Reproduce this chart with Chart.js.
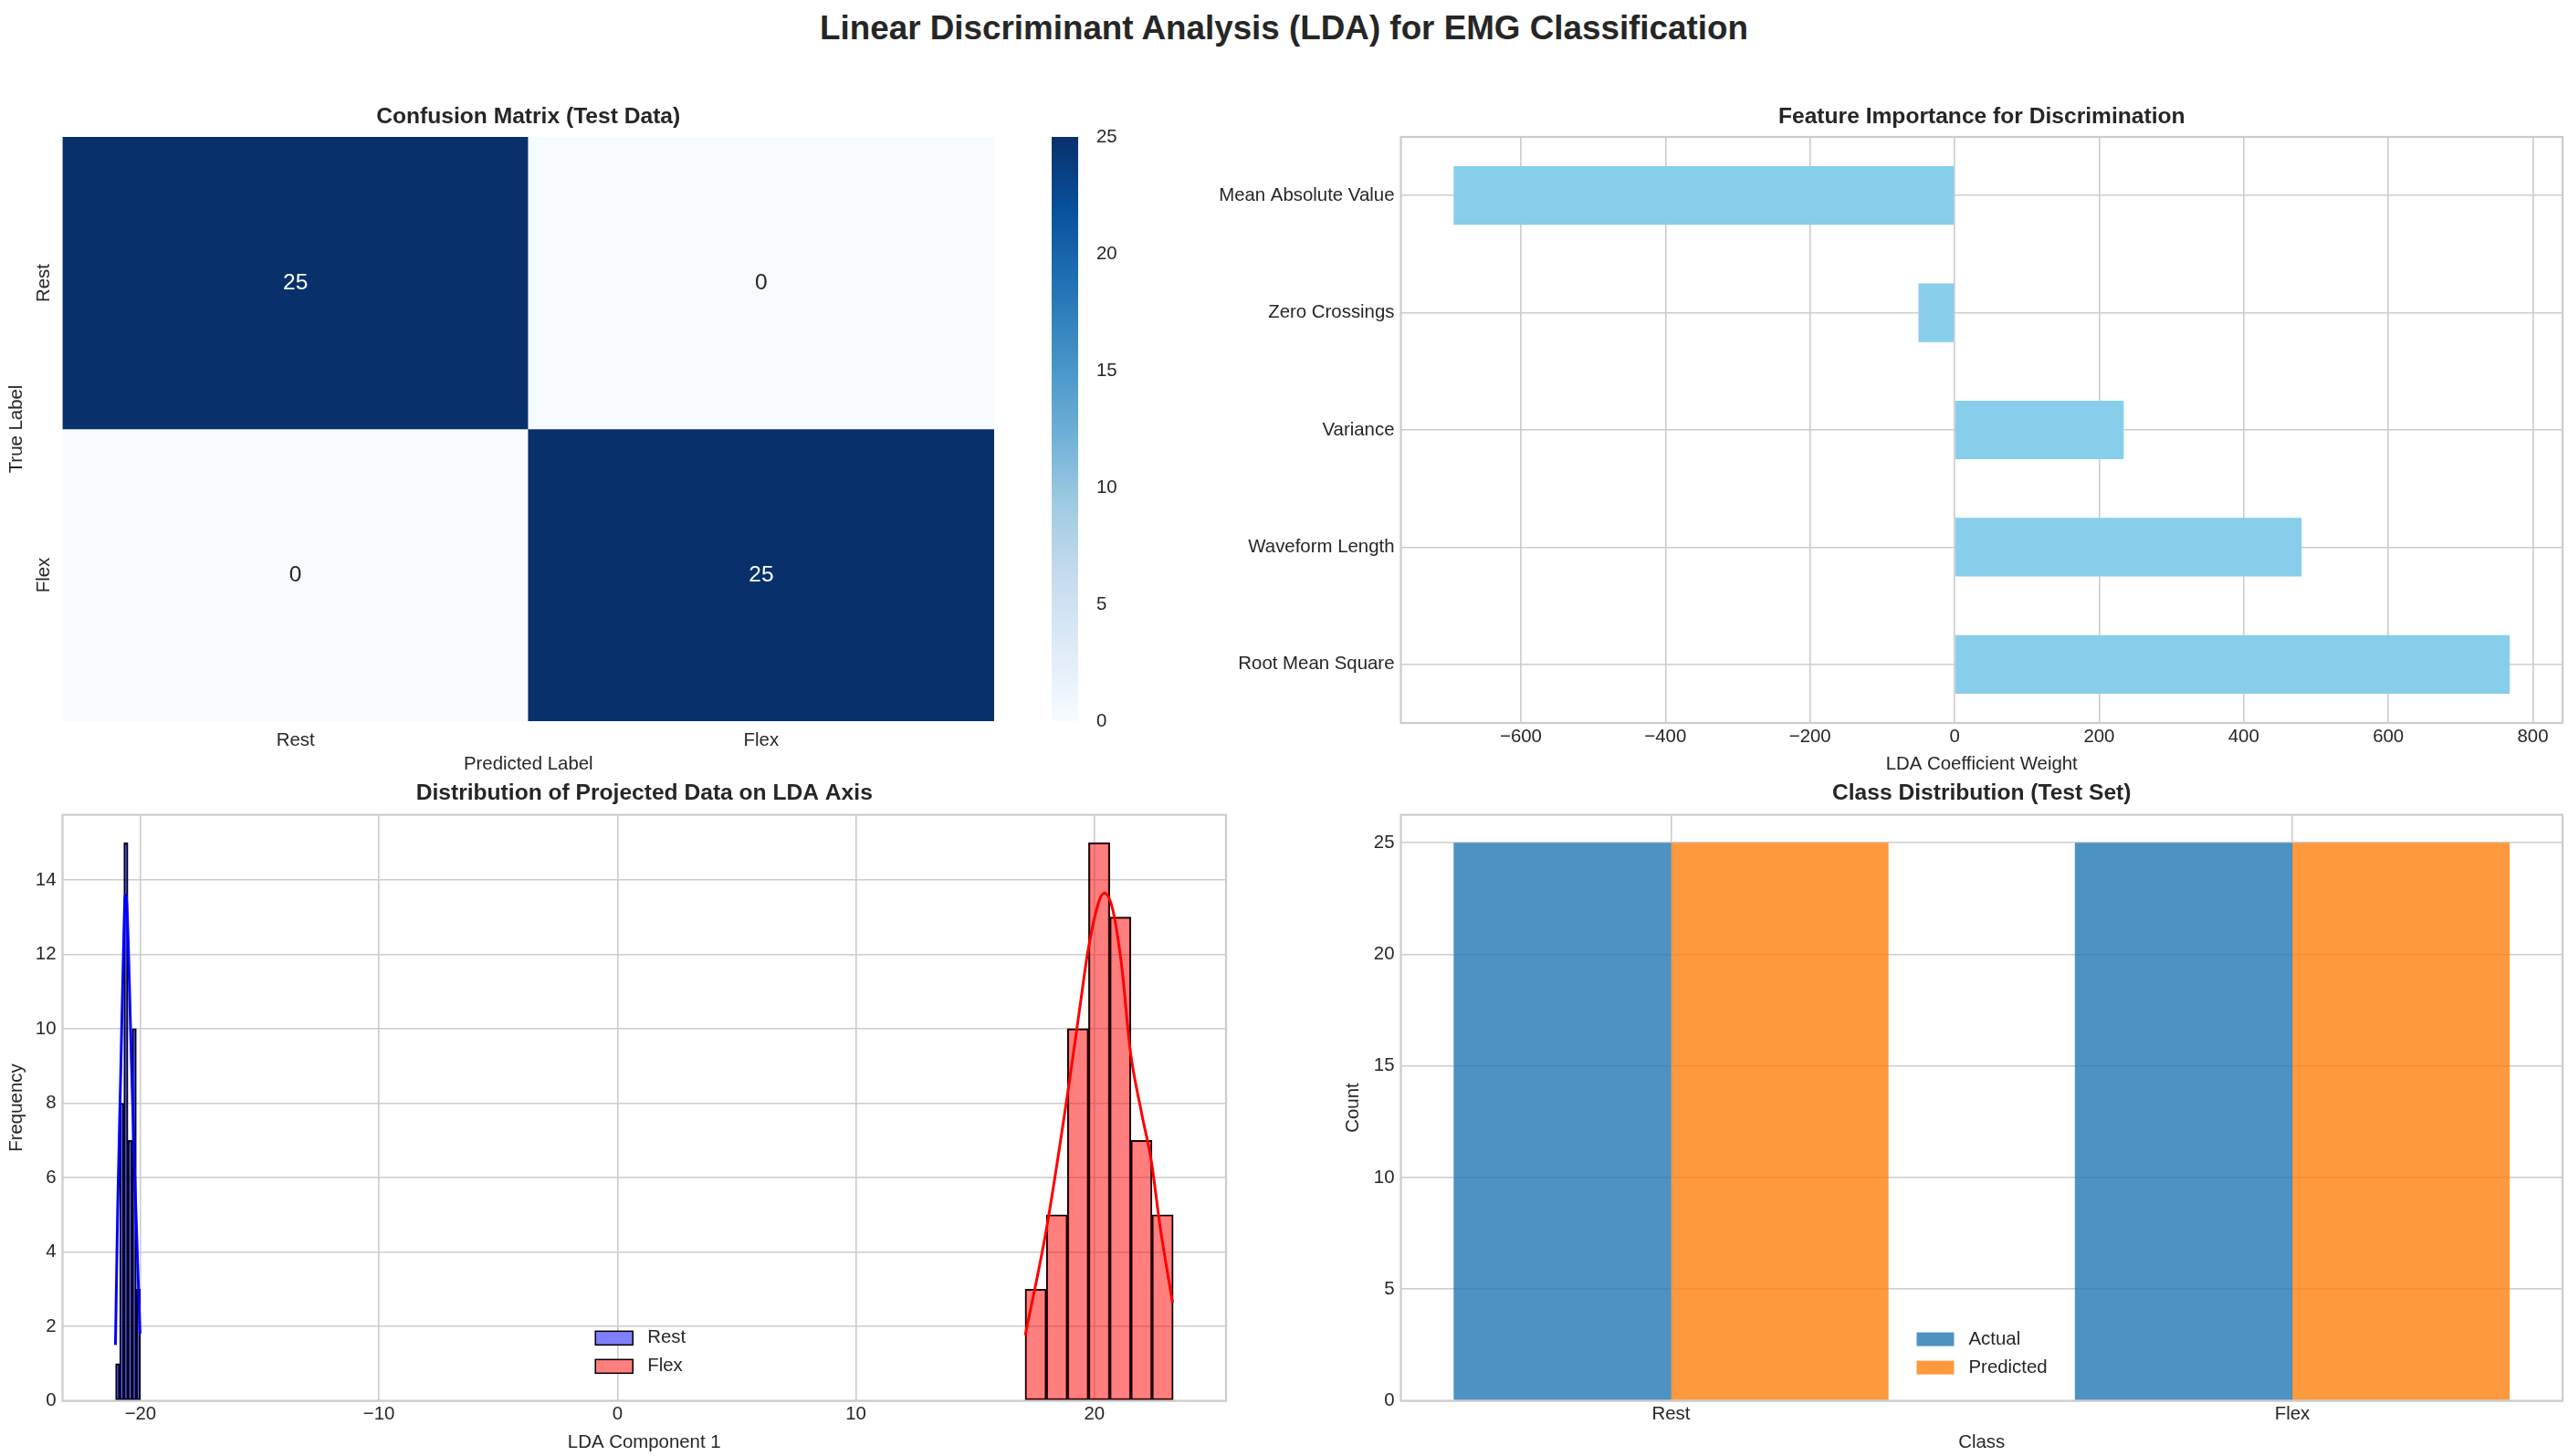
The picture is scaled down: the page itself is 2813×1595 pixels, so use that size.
<!DOCTYPE html>
<html>
<head>
<meta charset="utf-8">
<title>LDA for EMG Classification</title>
<script src="https://cdn.jsdelivr.net/npm/chart.js@4.4.1/dist/chart.umd.min.js"></script>
<style>
  html, body { margin: 0; padding: 0; background: #fff; }
  body { width: 2813px; height: 1595px; position: relative; overflow: hidden; font-family: 'Liberation Sans', Arial, sans-serif; }
  h1 { position: absolute; left: 0; top: 10px; width: 2813px; margin: 0; text-align: center;
       font-size: 36.8px; line-height: 42px; font-weight: bold; color: #262626; }
  canvas { position: absolute; }
</style>
</head>
<body>
<h1>Linear Discriminant Analysis (LDA) for EMG Classification</h1>
<canvas id="cm"></canvas>
<canvas id="cb"></canvas>
<canvas id="fi"></canvas>
<canvas id="hist"></canvas>
<canvas id="cls"></canvas>
<script>
// data
const classes = ['Rest', 'Flex'];
const confusion = [[25, 0], [0, 25]];
const cbTicks = [0, 5, 10, 15, 20, 25];

const features = ['Mean Absolute Value', 'Zero Crossings', 'Variance', 'Waveform Length', 'Root Mean Square'];
const weights = [-693, -50, 234, 480, 768];
const weightTicks = [-600, -400, -200, 0, 200, 400, 600, 800];

const restBins = [-20.96, -20.79, -20.61, -20.44, -20.26, -20.09];
const restCounts = [1, 8, 15, 7, 10, 3];
const flexBins = [17.54, 18.43, 19.31, 20.20, 21.09, 21.97, 22.86];
const flexCounts = [3, 5, 10, 15, 13, 7, 5];

const restKdeX = [-21.05, -20.96, -20.83, -20.70, -20.64, -20.57, -20.38, -20.25, -20.02];
const restKdeY = [1.5, 5.1, 8.8, 12.5, 13.6, 13.3, 9.1, 6.2, 1.8];
const flexKdeX = [17.10, 17.99, 18.89, 19.41, 19.73, 20.19, 20.42, 20.77, 21.16, 21.50, 21.99, 22.38, 22.77, 23.28];
const flexKdeY = [1.76, 4.62, 8.31, 10.66, 12.09, 13.42, 13.65, 13.2, 11.6, 9.43, 7.7, 6.47, 4.62, 2.63];
const ldaTicks = [-20, -10, 0, 10, 20];
const freqTicks = [0, 2, 4, 6, 8, 10, 12, 14];

const actualCounts = [25, 25];
const predictedCounts = [25, 25];
const countTicks = [0, 5, 10, 15, 20, 25];

// style
const FAMILY = "'Liberation Sans', Arial, Helvetica, sans-serif";
const INK = '#262626';
const GRID = '#cccccc';
const TICK_PX = 20.4, LABEL_PX = 20.4, TITLE_PX = 24.6;
const BLUES = ['#f7fbff', '#deebf7', '#c6dbef', '#9ecae1', '#6baed6', '#4292c6', '#2171b5', '#08519c', '#08306b'];

Chart.defaults.font.family = FAMILY;
Chart.defaults.font.size = TICK_PX;
Chart.defaults.color = INK;
Chart.defaults.animation = false;
Chart.defaults.events = [];
Chart.defaults.plugins.legend.display = false;
Chart.defaults.plugins.tooltip.enabled = false;

const cmMax = Math.max(...confusion.flat());
const signed = v => (v < 0 ? '\u2212' + Math.abs(v) : String(v));
const gridOpts = { color: GRID, lineWidth: 1.6, drawTicks: false };
const fixTicks = list => s => { s.ticks = list.map(v => ({ value: v })); };

function hexRgb(h) {
  return [1, 3, 5].map(i => parseInt(h.slice(i, i + 2), 16));
}
function blues(t) {
  const p = Math.min(Math.max(t, 0), 1) * (BLUES.length - 1);
  const i = Math.min(Math.floor(p), BLUES.length - 2), f = p - i;
  const a = hexRgb(BLUES[i]), b = hexRgb(BLUES[i + 1]);
  return 'rgb(' + a.map((v, k) => Math.round(v + (b[k] - v) * f)).join(',') + ')';
}

function canvas(id, box) {
  const el = document.getElementById(id);
  el.width = box.w; el.height = box.h;
  el.style.left = box.x + 'px'; el.style.top = box.y + 'px';
  return el;
}

// works out paddings so the plot area lands where it is in the picture
function place(cv, area, titleCy, xTitleCy) {
  const tlh = TITLE_PX * 1.2, alh = LABEL_PX * 1.2;
  const xH = xTitleCy - area.bottom + alh / 2;
  return {
    padding: { top: 0, left: 0, right: cv.x + cv.w - area.right, bottom: cv.y + cv.h - area.bottom - xH },
    titlePad: { top: titleCy - cv.y - tlh / 2, bottom: area.top - titleCy - tlh / 2 },
    yW: area.left - cv.x,
    xH: xH
  };
}

function titleOpts(text, pad) {
  return { display: true, text: text, fullSize: false, color: INK,
           font: { size: TITLE_PX, weight: 'bold' }, padding: pad };
}
function axisTitle(text, pad) {
  return { display: true, text: text, color: INK, font: { size: LABEL_PX },
           padding: { top: pad || 0, bottom: 0 } };
}

const frame = {
  id: 'frame',
  afterDatasetsDraw(chart) {
    const { ctx, chartArea: a } = chart;
    ctx.save();
    ctx.strokeStyle = GRID;
    ctx.lineWidth = 2.2;
    ctx.strokeRect(a.left, a.top, a.right - a.left, a.bottom - a.top);
    ctx.restore();
  }
};

function innerLegend(fx, fy) {
  return {
    id: 'innerLegend',
    afterDraw(chart) {
      const { ctx, chartArea: a } = chart;
      const x = a.left + (a.right - a.left) * fx;
      let y = a.top + (a.bottom - a.top) * fy;
      ctx.save();
      ctx.font = TICK_PX + 'px ' + FAMILY;
      ctx.textBaseline = 'middle';
      chart.data.datasets.forEach(ds => {
        if (ds.type === 'line') return;
        ctx.fillStyle = '#ffffff';
        ctx.fillRect(x, y - 7.5, 41, 15);
        ctx.fillStyle = ds.backgroundColor;
        ctx.fillRect(x, y - 7.5, 41, 15);
        if (ds.borderWidth) {
          ctx.strokeStyle = ds.borderColor;
          ctx.lineWidth = 1.5;
          ctx.strokeRect(x, y - 7.5, 41, 15);
        }
        ctx.fillStyle = INK;
        ctx.fillText(ds.label, x + 57, y);
        y += 31;
      });
      ctx.restore();
    }
  };
}

// ---- confusion matrix ----
const cmBox = { x: 0, y: 0, w: 1100, h: 880 };
const cmPlace = place(cmBox, { left: 68.5, right: 1089, top: 150, bottom: 790 }, 128, 837);

const cellText = {
  id: 'cellText',
  afterDatasetsDraw(chart) {
    const { ctx, scales: { x, y } } = chart;
    ctx.save();
    ctx.font = '24.5px ' + FAMILY;
    ctx.textAlign = 'center';
    ctx.textBaseline = 'middle';
    confusion.forEach((row, r) => row.forEach((v, c) => {
      ctx.fillStyle = v > cmMax / 2 ? '#ffffff' : INK;
      ctx.fillText(String(v), x.getPixelForValue(c), y.getPixelForValue(r + 0.5));
    }));
    ctx.restore();
  }
};

new Chart(canvas('cm', cmBox), {
  type: 'bar',
  data: {
    labels: classes,
    datasets: classes.map((name, r) => ({
      label: name,
      data: classes.map(() => [r, r + 1]),
      backgroundColor: confusion[r].map(v => blues(v / cmMax)),
      borderWidth: 0, grouped: false, barPercentage: 1, categoryPercentage: 1
    }))
  },
  options: {
    responsive: false,
    layout: { padding: cmPlace.padding },
    plugins: { title: titleOpts('Confusion Matrix (Test Data)', cmPlace.titlePad) },
    scales: {
      x: {
        type: 'category', offset: true,
        grid: { display: false }, border: { display: false },
        ticks: { padding: 1 },
        title: axisTitle('Predicted Label'),
        afterFit: s => { s.height = cmPlace.xH; }
      },
      y: {
        type: 'linear', min: 0, max: classes.length, reverse: true,
        grid: { display: false }, border: { display: false },
        afterBuildTicks: s => { s.ticks = classes.map((c, i) => ({ value: i + 0.5 })); },
        ticks: { callback: (v, i) => classes[i], minRotation: 90, maxRotation: 90, crossAlign: 'center', padding: -9 },
        title: axisTitle('True Label', 5.8),
        afterFit: s => { s.width = cmPlace.yW; }
      }
    }
  },
  plugins: [cellText]
});

// ---- colour bar ----
const cbBox = { x: 1140, y: 0, w: 130, h: 880 };
new Chart(canvas('cb', cbBox), {
  type: 'bar',
  data: {
    labels: [''],
    datasets: [{
      data: [[0, cmMax]],
      backgroundColor: c => {
        const ch = c.chart;
        if (!ch.chartArea) return BLUES[BLUES.length - 1];
        const ys = ch.scales.y;
        const g = ch.ctx.createLinearGradient(0, ys.getPixelForValue(0), 0, ys.getPixelForValue(cmMax));
        BLUES.forEach((col, i) => g.addColorStop(i / (BLUES.length - 1), col));
        return g;
      },
      borderWidth: 0, barPercentage: 1, categoryPercentage: 1
    }]
  },
  options: {
    responsive: false,
    layout: { padding: { left: 12, top: 150, bottom: 90, right: 29 } },
    scales: {
      x: { display: false },
      y: {
        position: 'right', min: 0, max: cmMax,
        grid: { display: false }, border: { display: false },
        afterBuildTicks: fixTicks(cbTicks),
        ticks: { padding: 12 },
        afterFit: s => { s.width = 60; }
      }
    }
  }
});

// ---- feature importance ----
const fiBox = { x: 1300, y: 0, w: 1513, h: 880 };
const fiPlace = place(fiBox, { left: 1534.5, right: 2807, top: 150, bottom: 792 }, 128, 837);

new Chart(canvas('fi', fiBox), {
  type: 'bar',
  data: {
    labels: features,
    datasets: [{ label: 'Weight', data: weights, backgroundColor: '#87ceeb', borderWidth: 0,
                 categoryPercentage: 0.5, barPercentage: 1 }]
  },
  options: {
    responsive: false,
    indexAxis: 'y',
    layout: { padding: fiPlace.padding },
    plugins: { title: titleOpts('Feature Importance for Discrimination', fiPlace.titlePad) },
    scales: {
      x: {
        type: 'linear', min: -766, max: 841,
        grid: gridOpts, border: { display: false },
        afterBuildTicks: fixTicks(weightTicks),
        ticks: { padding: 3.5, callback: signed },
        title: axisTitle('LDA Coefficient Weight'),
        afterFit: s => { s.height = fiPlace.xH; }
      },
      y: {
        grid: Object.assign({}, gridOpts, { offset: false }), border: { display: false },
        ticks: { padding: 7 },
        afterFit: s => { s.width = fiPlace.yW; }
      }
    }
  },
  plugins: [frame]
});

// ---- projected distribution ----
const hBox = { x: 0, y: 830, w: 1400, h: 765 };
const hPlace = place(hBox, { left: 68.5, right: 1343, top: 892.6, bottom: 1534.5 }, 869, 1580);

const histBar = {
  borderColor: '#000000', borderWidth: 1.5, borderSkipped: false,
  barThickness: 'flex', barPercentage: 1, categoryPercentage: 1, stack: 'hist', order: 1
};

new Chart(canvas('hist', hBox), {
  type: 'bar',
  data: {
    datasets: [
      { type: 'line', label: 'Rest KDE', data: restKdeX.map((x, i) => ({ x: x, y: restKdeY[i] })),
        borderColor: '#0000ff', borderWidth: 3, pointRadius: 0, cubicInterpolationMode: 'monotone', order: 0 },
      { type: 'line', label: 'Flex KDE', data: flexKdeX.map((x, i) => ({ x: x, y: flexKdeY[i] })),
        borderColor: '#ff0000', borderWidth: 3, pointRadius: 0, cubicInterpolationMode: 'monotone', order: 0 },
      Object.assign({ label: 'Rest', data: restBins.map((x, i) => ({ x: x, y: restCounts[i] })),
        backgroundColor: 'rgba(0,0,255,0.5)' }, histBar),
      Object.assign({ label: 'Flex', data: flexBins.map((x, i) => ({ x: x, y: flexCounts[i] })),
        backgroundColor: 'rgba(255,0,0,0.5)' }, histBar)
    ]
  },
  options: {
    responsive: false,
    layout: { padding: hPlace.padding },
    plugins: { title: titleOpts('Distribution of Projected Data on LDA Axis', hPlace.titlePad) },
    scales: {
      x: {
        type: 'linear', min: -23.27, max: 25.52, offset: false,
        grid: Object.assign({}, gridOpts, { offset: false }), border: { display: false },
        afterBuildTicks: fixTicks(ldaTicks),
        ticks: { padding: 3, callback: signed },
        title: axisTitle('LDA Component 1'),
        afterFit: s => { s.height = hPlace.xH; }
      },
      y: {
        min: 0, max: 15.75, stacked: false,
        grid: gridOpts, border: { display: false },
        afterBuildTicks: fixTicks(freqTicks),
        ticks: { padding: 7 },
        title: axisTitle('Frequency', 5.8),
        afterFit: s => { s.width = hPlace.yW; }
      }
    }
  },
  plugins: [frame, innerLegend(0.458, 0.893)]
});

// ---- class distribution ----
const cBox = { x: 1460, y: 830, w: 1353, h: 765 };
const cPlace = place(cBox, { left: 1534.5, right: 2807, top: 892.6, bottom: 1534.5 }, 869, 1580);

new Chart(canvas('cls', cBox), {
  type: 'bar',
  data: {
    datasets: [
      { label: 'Actual', data: classes.map((c, i) => ({ x: i, y: actualCounts[i] })),
        backgroundColor: 'rgba(31,119,180,0.8)', borderWidth: 0, categoryPercentage: 0.7, barPercentage: 1 },
      { label: 'Predicted', data: classes.map((c, i) => ({ x: i, y: predictedCounts[i] })),
        backgroundColor: 'rgba(255,127,14,0.8)', borderWidth: 0, categoryPercentage: 0.7, barPercentage: 1 }
    ]
  },
  options: {
    responsive: false,
    layout: { padding: cPlace.padding },
    plugins: { title: titleOpts('Class Distribution (Test Set)', cPlace.titlePad) },
    scales: {
      x: {
        type: 'linear', min: -0.435, max: 1.435, offset: false,
        grid: Object.assign({}, gridOpts, { offset: false }), border: { display: false },
        afterBuildTicks: fixTicks(classes.map((c, i) => i)),
        ticks: { padding: 3, callback: v => classes[v] },
        title: axisTitle('Class'),
        afterFit: s => { s.height = cPlace.xH; }
      },
      y: {
        min: 0, max: 26.25,
        grid: gridOpts, border: { display: false },
        afterBuildTicks: fixTicks(countTicks),
        ticks: { padding: 7 },
        title: axisTitle('Count', 9.8),
        afterFit: s => { s.width = cPlace.yW; }
      }
    }
  },
  plugins: [frame, innerLegend(0.444, 0.895)]
});
</script>
</body>
</html>
